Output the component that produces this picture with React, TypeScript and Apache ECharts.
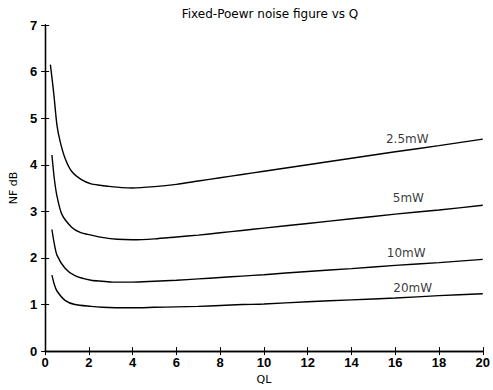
import React, { useEffect, useRef } from "react";
import * as echarts from "echarts";

const TITLE = "Fixed-Poewr noise figure vs Q";
const X_NAME = "QL";
const Y_NAME = "NF dB";

const q25: number[] = [0.24, 0.39, 0.54, 0.69, 0.91, 1.21, 1.66, 2.1, 2.5, 2.86, 3.5, 4, 5, 6, 7, 8, 9, 10, 12, 14, 16, 18, 20];
const nf25: number[] = [6.15, 5.55, 4.85, 4.49, 4.14, 3.86, 3.68, 3.59, 3.56, 3.54, 3.51, 3.5, 3.53, 3.58, 3.65, 3.72, 3.79, 3.86, 4.0, 4.14, 4.28, 4.41, 4.55];

const q5: number[] = [0.31, 0.42, 0.54, 0.76, 1.21, 1.6, 2.1, 2.6, 3.3, 4, 5, 6, 7, 8, 9, 10, 12, 14, 16, 18, 20];
const nf5: number[] = [4.21, 3.7, 3.33, 2.94, 2.66, 2.55, 2.49, 2.44, 2.4, 2.39, 2.41, 2.45, 2.49, 2.54, 2.59, 2.64, 2.74, 2.84, 2.94, 3.03, 3.13];

const q10: number[] = [0.31, 0.42, 0.54, 0.91, 1.36, 2.1, 2.6, 3.1, 4, 5, 6, 7, 8, 9, 10, 12, 14, 16, 18, 20];
const nf10: number[] = [2.61, 2.3, 2.06, 1.78, 1.62, 1.52, 1.5, 1.48, 1.48, 1.5, 1.52, 1.55, 1.58, 1.61, 1.64, 1.71, 1.77, 1.84, 1.9, 1.97];

const q20: number[] = [0.31, 0.42, 0.54, 0.91, 1.36, 2.1, 2.6, 3.2, 4, 5, 6, 7, 8, 9, 10, 12, 14, 16, 18, 20];
const nf20: number[] = [1.63, 1.43, 1.29, 1.09, 1.0, 0.96, 0.94, 0.93, 0.93, 0.94, 0.95, 0.96, 0.98, 1.0, 1.01, 1.06, 1.1, 1.14, 1.19, 1.23];

const seriesNames: string[] = ["2.5mW", "5mW", "10mW", "20mW"];
const labelQ: number[] = [16.55, 16.6, 16.5, 16.8];
const labelNF: number[] = [4.55, 3.28, 2.11, 1.35];

const xTicks = { min: 0, max: 20, interval: 2 };
const yTicks = { min: 0, max: 7, interval: 1 };

const FONT = "Liberation Sans, Arial, sans-serif";
const WIDE = "DejaVu Sans, sans-serif";

export default function App() {
  const ref = useRef<HTMLDivElement>(null);
  useEffect(() => {
    if (!ref.current) return;
    const chart = echarts.init(ref.current, undefined, { renderer: "svg" });
    const pairs = (xs: number[], ys: number[]) => xs.map((x, i) => [x, ys[i]]);
    const curves = [pairs(q25, nf25), pairs(q5, nf5), pairs(q10, nf10), pairs(q20, nf20)];
    const axisLine = { show: true, lineStyle: { color: "#000", width: 1.3 } };
    const axisTick = { show: true, inside: true, length: 4, lineStyle: { color: "#000", width: 1 } };
    const tickLabel = { fontFamily: FONT, fontSize: 13, fontWeight: "bold", color: "#000" };
    chart.setOption({
      animation: false,
      backgroundColor: "#fff",
      title: {
        text: TITLE,
        left: 265,
        textAlign: "center",
        top: 3,
        textStyle: { fontFamily: WIDE, fontSize: 12, fontWeight: "normal", color: "#000" },
      },
      grid: { left: 43, right: 4, top: 25, bottom: 34, containLabel: false },
      xAxis: [
        {
          type: "value",
          ...xTicks,
          position: "bottom",
          name: X_NAME,
          nameLocation: "middle",
          nameGap: 18,
          nameTextStyle: { fontFamily: WIDE, fontSize: 11, color: "#000" },
          axisLine,
          axisTick,
          axisLabel: { ...tickLabel, margin: 5 },
          splitLine: { show: false },
        },
        {
          type: "value",
          ...xTicks,
          position: "top",
          axisLine,
          axisTick,
          axisLabel: { show: false },
          splitLine: { show: false },
        },
      ],
      yAxis: [
        {
          type: "value",
          ...yTicks,
          position: "left",
          name: Y_NAME,
          nameLocation: "middle",
          nameGap: 22,
          nameRotate: 90,
          nameTextStyle: { fontFamily: WIDE, fontSize: 11, color: "#000" },
          axisLine,
          axisTick,
          axisLabel: { ...tickLabel, margin: 8 },
          splitLine: { show: false },
        },
        {
          type: "value",
          ...yTicks,
          position: "right",
          axisLine,
          axisTick,
          axisLabel: { show: false },
          splitLine: { show: false },
        },
      ],
      series: [
        ...curves.map((d, i) => ({
          type: "line",
          name: seriesNames[i],
          data: d,
          smooth: 0.25,
          showSymbol: false,
          lineStyle: { color: "#000", width: 1.4 },
        })),
        {
          type: "scatter",
          symbolSize: 0,
          data: labelQ.map((q, i) => ({ value: [q, labelNF[i]], name: seriesNames[i] })),
          label: {
            show: true,
            position: "inside",
            formatter: (p: any) => p.name,
            fontFamily: WIDE,
            fontSize: 12,
            color: "#000",
          },
        },
      ],
    });
    return () => chart.dispose();
  }, []);
  return (
    <div
      ref={ref}
      style={{ position: "absolute", left: 0, top: 0, width: 493, height: 390 }}
    />
  );
}
